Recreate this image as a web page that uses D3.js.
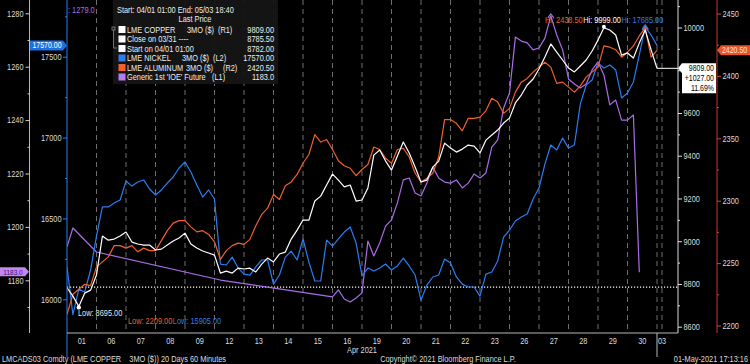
<!DOCTYPE html>
<html>
<head>
<meta charset="utf-8">
<script src="https://cdn.jsdelivr.net/npm/d3@7"></script>
<style>
  html, body { margin: 0; padding: 0; background: #000; }
  svg { display: block; font-family: "Liberation Sans", Arial, sans-serif; }
  text { white-space: pre; }
</style>
</head>
<body>
<div id="chart"></div>
<script>
// trading days on the x axis (Apr 2021 + May 3)
const days = ["01","06","07","08","09","12","13","14","15","16","19","20","21","22","23","26","27","28","29","30","03"];
const stepsPerDay = 5; // one value every 1/5 of a trading day

// LME copper 3MO ($) (R1)
const copper = [
  8782, 8743, 8695, 8757, 8771, 8842, 9024, 9005, 9010, 9024,
  9043, 8996, 8987, 8982, 8982, 8959, 8963, 8982, 9001, 9015,
  9038, 8987, 8968, 8954, 8945, 8935, 8851, 8860, 8851, 8874,
  8870, 8874, 8856, 8893, 8921, 8903, 8940, 8949, 9010, 9052,
  9099, 9099, 9188, 9211, 9263, 9314, 9286, 9254, 9263, 9188,
  9193, 9249, 9403, 9427, 9375, 9333, 9399, 9464, 9413, 9347,
  9277, 9286, 9347, 9375, 9459, 9436, 9417, 9431, 9450, 9445,
  9413, 9473, 9497, 9520, 9553, 9576, 9647, 9684, 9731, 9759,
  9806, 9862, 9923, 9885, 9848, 9810, 9792, 9820, 9848, 9890,
  9941, 9999, 9988, 9965, 9871, 9881, 9857, 9927, 9988, 9895,
  9809
];
const copperClose = 8785.5; // close on 03/31

// LME aluminum 3MO ($) (R2)
const aluminum = [
  2209, 2225, 2229, 2233, 2232, 2247, 2251, 2255, 2264, 2264,
  2262, 2264, 2259, 2262, 2260, 2260, 2268, 2276, 2282, 2284,
  2284, 2279, 2275, 2276, 2273, 2267, 2253, 2260, 2264, 2266,
  2265, 2269, 2280, 2289, 2294, 2305, 2301, 2312, 2315, 2321,
  2330, 2337, 2353, 2347, 2349, 2341, 2332, 2328, 2326, 2320,
  2325, 2329, 2343, 2341, 2334, 2330, 2341, 2342, 2335, 2322,
  2315, 2318, 2322, 2335, 2365, 2365, 2362, 2356, 2366, 2366,
  2367, 2372, 2382, 2379, 2370, 2374, 2387, 2395, 2398, 2403,
  2407, 2411, 2407, 2394, 2395, 2391, 2387, 2392, 2399, 2403,
  2407, 2424, 2423, 2421, 2415, 2419, 2424, 2432, 2438.5, 2415,
  2420.5
];

// LME nickel 3MO ($) (L2)
const nickel = [
  16200, 15905, 16063, 16045, 16181, 16391, 16571, 16571, 16595, 16614,
  16731, 16700, 16725, 16738, 16682, 16645, 16676, 16719, 16756, 16812,
  16849, 16787, 16707, 16632, 16676, 16620, 16218, 16212, 16261, 16193,
  16156, 16150, 16200, 16243, 16243, 16094, 16150, 16261, 16298, 16243,
  16373, 16230, 16113, 16113, 16366, 16329, 16373, 16416, 16447, 16348,
  16144, 16193, 16175, 16193, 16218, 16181, 16206, 16255, 16206, 16150,
  15995, 16088, 16138, 16150, 16249, 16224, 16138, 16094, 16076, 16076,
  16020, 16156, 16169, 16237, 16385, 16428, 16484, 16509, 16527, 16620,
  16688, 16836, 16954, 16923, 16997, 16935, 16954, 17207, 17325, 17356,
  17461, 17430, 17449, 17418, 17245, 17276, 17344, 17511, 17685, 17634,
  17570
];

// Generic 1st 'IOE' future (L1) - null where there is no print
const ioe = [
  1192.5, 1199.6, null, null, null, 1190.6, null, null, null, null,
  null, null, null, null, null, null, null, null, null, null,
  null, null, null, null, null, null, 1180.1, null, null, null,
  null, null, null, null, null, null, null, null, null, null,
  null, null, null, null, null, 1173.8, 1176.4, 1173.0, 1171.9, 1173.4,
  1175.3, 1194.7, 1189.1, 1194.0, 1200.3, 1202.6, 1209.0, 1217.6, 1218.3, 1212.7,
  1211.6, 1216.4, 1222.4, 1218.3, 1216.8, 1216.4, 1217.6, 1214.6, 1216.4, 1219.8,
  1218.3, 1220.2, 1229.9, 1232.6, 1244.5, 1250.2, 1271.1, 1269.6, 1268.9, 1266.3,
  1267.0, 1270.7, 1279.0, 1271.9, 1266.3, 1255.4, 1253.5, 1252.0, 1253.5, 1258.8,
  1261.8, 1256.9, 1245.7, 1247.5, 1240.0, 1240.0, 1241.9, 1183.0, null, null,
  null
];

// axis ticks
const ioeTicks = [1180, 1200, 1220, 1240, 1260, 1280];
const ioeMinor = [1170, 1190, 1210, 1230, 1250, 1270];
const nickelTicks = [16000, 16500, 17000, 17500];
const nickelMinor = [16250, 16750, 17250, 17750];
const copperTicks = [8600, 8800, 9000, 9200, 9400, 9600, 9800, 10000];
const copperMinor = [8700, 8900, 9100, 9300, 9500, 9700, 9900, 10100];
const aluTicks = [2200, 2250, 2300, 2350, 2400, 2450];
const aluMinor = [2225, 2275, 2325, 2375, 2425];

const colors = {
  copper: "#ffffff",
  nickel: "#2b7df2",
  aluminum: "#f2602c",
  ioe: "#a96ee6",
  grid: "#8a8a8a",
  label: "#dcdcdc"
};

const W = 750, H = 364;
const plotTop = 0, plotBottom = 333, plotLeft = 67, plotRight = 678;
const NARROW = 0.82; // Bloomberg uses a condensed face

const svg = d3.select("#chart").append("svg")
  .attr("width", W).attr("height", H);

svg.append("rect").attr("width", W).attr("height", H).attr("fill", "#000");

// squeeze a text horizontally around its own x anchor
function narrow(sel) {
  sel.each(function () {
    const t = d3.select(this);
    const xv = +t.attr("x") || 0;
    t.attr("transform", `translate(${xv},0) scale(${NARROW},1) translate(${-xv},0)`);
  });
  return sel;
}

// scales
const x = d3.scaleLinear().domain([0, 20]).range([67, 657]);
const yCu = d3.scaleLinear().domain([8600, 10000]).range([326.7, 27.5]);
const yAl = d3.scaleLinear().domain([2200, 2450]).range([325.5, 13.5]);
const yNi = d3.scaleLinear().domain([16000, 17500]).range([299.3, 56.7]);
const yIoe = d3.scaleLinear().domain([1180, 1280]).range([280.3, 13.3]);

const xi = i => x(i / stepsPerDay);
const f2 = d3.format(".2f");
const f1 = d3.format(".1f");

const lastCu = copper[copper.length - 1];
const lastAl = aluminum[aluminum.length - 1];
const lastNi = nickel[nickel.length - 1];
const lastIoe = ioe.filter(v => v != null).pop();

// day separators (dashed)
const seps = d3.range(1, 21).concat([20.17]);
svg.append("g").selectAll("line").data(seps).join("line")
  .attr("x1", d => x(d)).attr("x2", d => x(d))
  .attr("y1", plotTop).attr("y2", plotBottom)
  .attr("stroke", colors.grid).attr("stroke-width", 0.8)
  .attr("stroke-dasharray", "5,4");

// close on 03/31 dotted line
svg.append("line")
  .attr("x1", plotLeft).attr("x2", plotRight)
  .attr("y1", yCu(copperClose)).attr("y2", yCu(copperClose))
  .attr("stroke", "#fff").attr("stroke-width", 1.2)
  .attr("stroke-dasharray", "1.2,1.8");

// clip for series
svg.append("clipPath").attr("id", "plotclip")
  .append("rect").attr("x", plotLeft).attr("y", plotTop)
  .attr("width", plotRight - plotLeft).attr("height", plotBottom - plotTop);

const gLines = svg.append("g").attr("clip-path", "url(#plotclip)");

function drawSeries(values, yScale, color) {
  const pts = values.map((v, i) => ({ i, v })).filter(d => d.v != null);
  gLines.append("path")
    .datum(pts)
    .attr("fill", "none")
    .attr("stroke", color)
    .attr("stroke-width", 1.2)
    .attr("stroke-linejoin", "round")
    .attr("d", d3.line().x(d => xi(d.i)).y(d => yScale(d.v)));
}

drawSeries(ioe, yIoe, colors.ioe);
drawSeries(nickel, yNi, colors.nickel);
drawSeries(aluminum, yAl, colors.aluminum);
drawSeries(copper, yCu, colors.copper);

// axis lines
const axisLines = [
  { x: 29.5, y2: plotBottom, color: "#b8b8b8" },
  { x: plotLeft, y2: 357, color: colors.nickel },
  { x: plotRight, y2: plotBottom, color: "#d8d8d8" },
  { x: 717, y2: plotBottom, color: "#c03a28" }
];
svg.append("g").selectAll("line").data(axisLines).join("line")
  .attr("x1", d => d.x).attr("x2", d => d.x)
  .attr("y1", 0).attr("y2", d => d.y2)
  .attr("stroke", d => d.color).attr("stroke-width", 1);

function styleAxis(g, color) {
  g.select(".domain").remove();
  g.selectAll(".tick line").attr("stroke", color);
  g.selectAll(".tick text").attr("fill", colors.label).attr("font-size", 9)
    .attr("font-family", null).call(narrow);
}

// tick labels hidden under a last-price tag are not drawn
function addAxis(gen, scale, major, minor, xPos, color, pad, hideNear) {
  const fmt = d => (hideNear != null && Math.abs(scale(d) - scale(hideNear)) < 12) ? "" : d3.format("d")(d);
  svg.append("g").attr("transform", `translate(${xPos},0)`)
    .call(gen(scale).tickValues(major).tickSize(4).tickPadding(pad).tickFormat(fmt))
    .call(g => styleAxis(g, color));
  svg.append("g").attr("transform", `translate(${xPos},0)`)
    .call(gen(scale).tickValues(minor).tickSize(2).tickFormat(""))
    .call(g => styleAxis(g, color));
}

addAxis(d3.axisLeft, yIoe, ioeTicks, ioeMinor, 29.5, "#cfcfcf", 2, null);
addAxis(d3.axisLeft, yNi, nickelTicks, nickelMinor, plotLeft, colors.nickel, 1.5, null);
addAxis(d3.axisRight, yCu, copperTicks, copperMinor, plotRight, "#e0e0e0", 1.5, lastCu);
addAxis(d3.axisRight, yAl, aluTicks, aluMinor, 717, "#d8452c", 1.5, null);

// x axis
svg.append("line")
  .attr("x1", plotLeft).attr("x2", plotRight)
  .attr("y1", plotBottom).attr("y2", plotBottom)
  .attr("stroke", "#b8b8b8");
svg.append("line")
  .attr("x1", x(20)).attr("x2", x(20))
  .attr("y1", plotBottom).attr("y2", 357)
  .attr("stroke", "#b8b8b8");

svg.append("g").selectAll("text").data(days).join("text")
  .attr("x", (d, i) => i < 20 ? x(i + 0.5) : x(20) + 1)
  .attr("y", 344)
  .attr("text-anchor", (d, i) => i < 20 ? "middle" : "start")
  .attr("font-size", 9).attr("fill", colors.label)
  .text(d => d).call(narrow);

svg.append("text").attr("x", x(10)).attr("y", 353)
  .attr("text-anchor", "middle").attr("font-size", 9).attr("fill", colors.label)
  .text("Apr 2021").call(narrow);

// footer
svg.append("text").attr("x", 2).attr("y", 362).attr("font-size", 9).attr("fill", colors.label)
  .text("LMCADS03 Comdty (LME COPPER    3MO ($)) 20 Days 60 Minutes").call(narrow);
svg.append("text").attr("x", 448).attr("y", 362).attr("text-anchor", "middle")
  .attr("font-size", 9).attr("fill", colors.label)
  .text("Copyright\u00a9 2021 Bloomberg Finance L.P.").call(narrow);
svg.append("text").attr("x", 748).attr("y", 362).attr("text-anchor", "end")
  .attr("font-size", 9).attr("fill", colors.label)
  .text("01-May-2021 17:13:16").call(narrow);

// hi / low annotations
function extremeIndex(values, fn) {
  let best = -1;
  values.forEach((v, i) => {
    if (v == null) return;
    if (best < 0 || fn(v, values[best])) best = i;
  });
  return best;
}
const hiAl = extremeIndex(aluminum, (a, b) => a > b);
const hiCu = extremeIndex(copper, (a, b) => a > b);
const hiNi = extremeIndex(nickel, (a, b) => a > b);
const hiIoe = extremeIndex(ioe, (a, b) => a > b);
const loCu = extremeIndex(copper, (a, b) => a < b);
const loAl = extremeIndex(aluminum, (a, b) => a < b);
const loNi = extremeIndex(nickel, (a, b) => a < b);

// hi chevrons
[[hiAl, aluminum, yAl, colors.aluminum], [hiNi, nickel, yNi, colors.nickel], [hiIoe, ioe, yIoe, colors.ioe]]
  .forEach(([i, vals, ys, c]) => {
    const px = xi(i), py = ys(vals[i]) - 2;
    svg.append("path")
      .attr("d", `M${px - 3},${py + 4}L${px},${py}L${px + 3},${py + 4}`)
      .attr("fill", "none").attr("stroke", c).attr("stroke-width", 1.2);
  });
svg.append("circle").attr("cx", xi(hiCu)).attr("cy", yCu(copper[hiCu]) - 1).attr("r", 2)
  .attr("fill", "#fff");
svg.append("circle").attr("cx", xi(loCu)).attr("cy", yCu(copper[loCu]) + 1).attr("r", 2.2)
  .attr("fill", "#fff");

function chainLabels(items, startX, y) {
  let cx = startX;
  items.forEach(([txt, c]) => {
    const t = svg.append("text").attr("x", cx).attr("y", y)
      .attr("font-size", 9).attr("fill", c).text(txt);
    cx += t.node().getComputedTextLength() * NARROW + 0.5;
    t.call(narrow);
  });
}
chainLabels([
  ["Hi: " + f2(aluminum[hiAl]), colors.aluminum],
  ["Hi: " + f2(copper[hiCu]), "#ffffff"],
  ["Hi: " + f2(nickel[hiNi]), colors.nickel]
], 545, 23);

svg.append("text").attr("x", 78).attr("y", 316).attr("font-size", 9).attr("fill", "#e8e8e8")
  .text("Low: " + f2(copper[loCu])).call(narrow);
chainLabels([
  ["Low: " + f2(aluminum[loAl]), colors.aluminum],
  ["Low: " + f2(nickel[loNi]), colors.nickel]
], 128, 324);

svg.append("text").attr("x", 68).attr("y", 13).attr("font-size", 9).attr("fill", colors.ioe)
  .text(": " + f1(ioe[hiIoe])).call(narrow);

// last-price tags
// nickel tag (left, arrow right)
{
  const c = yNi(lastNi);
  svg.append("path")
    .attr("d", `M30,${c - 5}L63,${c - 5}L67,${c}L63,${c + 5}L30,${c + 5}Z`)
    .attr("fill", "#1f6fe0");
  svg.append("text").attr("x", 47).attr("y", c + 3).attr("text-anchor", "middle")
    .attr("font-size", 8.5).attr("fill", "#fff").text(f2(lastNi)).call(narrow);
}
// ioe tag (far left, arrow right)
{
  const c = yIoe(lastIoe) - 0.5;
  svg.append("path")
    .attr("d", `M0,${c - 4.5}L25,${c - 4.5}L29,${c}L25,${c + 4.5}L0,${c + 4.5}Z`)
    .attr("fill", "#c287f2");
  svg.append("text").attr("x", 13).attr("y", c + 2.8).attr("text-anchor", "middle")
    .attr("font-size", 8).attr("fill", "#4a1475").text(f1(lastIoe)).call(narrow);
}
// aluminum tag (right, arrow left)
{
  const c = yAl(lastAl);
  svg.append("path")
    .attr("d", `M717,${c}L721,${c - 5}L750,${c - 5}L750,${c + 5}L721,${c + 5}Z`)
    .attr("fill", "#e9532a");
  svg.append("text").attr("x", 722).attr("y", c + 3)
    .attr("font-size", 8.5).attr("fill", "#ffe6dc").text(f2(lastAl)).call(narrow);
}
// copper tag with change from start
{
  const c = yCu(lastCu);
  const chg = lastCu - copper[0];
  svg.append("line").attr("x1", xi(copper.length - 1)).attr("x2", plotRight)
    .attr("y1", c).attr("y2", c).attr("stroke", "#fff").attr("stroke-width", 1);
  svg.append("path")
    .attr("d", `M678,${c}L682,${c - 5}L716,${c - 5}L716,${c + 25}L682,${c + 25}L682,${c + 5}Z`)
    .attr("fill", "#fff");
  const lines = [f2(lastCu), (chg >= 0 ? "+" : "") + f2(chg), f2(chg / copper[0] * 100) + "%"];
  svg.append("g").selectAll("text").data(lines).join("text")
    .attr("x", 714).attr("y", (d, i) => c + 3 + i * 10)
    .attr("text-anchor", "end").attr("font-size", 8.5).attr("fill", "#000")
    .text(d => d).call(narrow);
}

// legend
const legendRows = [
  { name: "LME COPPER", mid: "3MO ($)", tag: "(R1)", midX: 187, tagX: 218, color: colors.copper, value: f2(lastCu) },
  { name: "Close on 03/31 ----", color: colors.copper, value: f2(copperClose) },
  { name: "Start on 04/01 01:00", color: colors.copper, value: f2(copper[0]) },
  { name: "LME NICKEL", mid: "3MO ($)", tag: "(L2)", midX: 182, tagX: 213, color: colors.nickel, value: f2(lastNi) },
  { name: "LME ALUMINUM", mid: "3MO ($)", tag: "(R2)", midX: 186, tagX: 223, color: colors.aluminum, value: f2(lastAl) },
  { name: "Generic 1st 'IOE' Future", tag: "(L1)", tagX: 212, color: "#b57cf2", value: f1(lastIoe) }
];

const gLeg = svg.append("g");
gLeg.append("rect").attr("x", 113).attr("y", 0).attr("width", 165).attr("height", 84)
  .attr("fill", "#151515").attr("opacity", 0.95);
gLeg.append("text").attr("x", 117).attr("y", 13).attr("font-size", 9).attr("fill", "#eee")
  .text("Start: 04/01 01:00 End: 05/03 18:40").call(narrow);
gLeg.append("text").attr("x", 195).attr("y", 22.5).attr("text-anchor", "middle")
  .attr("font-size", 9).attr("fill", "#eee").text("Last Price").call(narrow);

// bracket linking copper rows
gLeg.append("rect").attr("x", 112).attr("y", 27).attr("width", 3).attr("height", 3)
  .attr("fill", "none").attr("stroke", "#999").attr("stroke-width", 0.7);
gLeg.append("path").attr("d", "M113.5,30V48H117").attr("fill", "none")
  .attr("stroke", "#999").attr("stroke-width", 0.7);

const rowY = i => 29.5 + i * 9.5;
legendRows.forEach((d, i) => {
  const y = rowY(i) + 3.2;
  gLeg.append("rect").attr("x", 118.5).attr("y", rowY(i) - 3.5)
    .attr("width", 7).attr("height", 7).attr("fill", d.color);
  const parts = [[d.name, 127, "start"]];
  if (d.mid) parts.push([d.mid, d.midX, "start"]);
  if (d.tag) parts.push([d.tag, d.tagX, "start"]);
  parts.push([d.value, 274, "end"]);
  parts.forEach(([txt, px, anchor]) => {
    gLeg.append("text").attr("x", px).attr("y", y).attr("text-anchor", anchor)
      .attr("font-size", 9).attr("fill", "#eee").text(txt).call(narrow);
  });
});
</script>
</body>
</html>
